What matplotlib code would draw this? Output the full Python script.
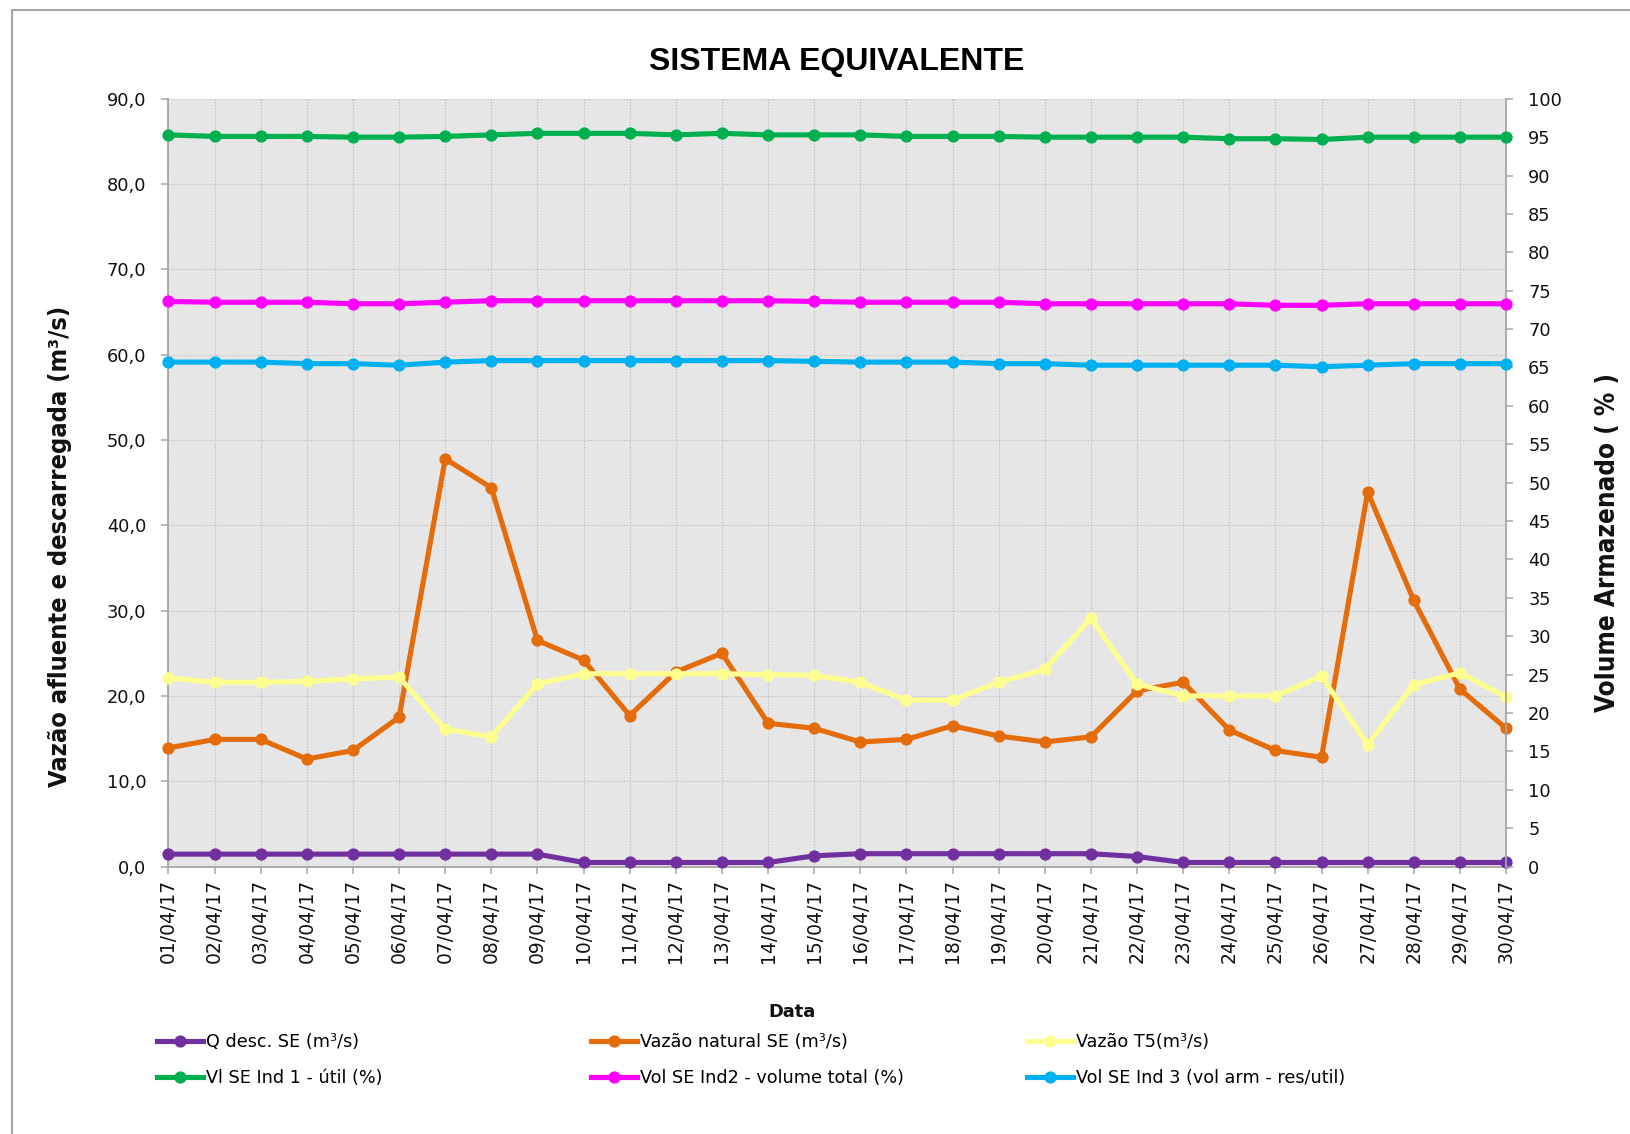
import matplotlib
matplotlib.use("Agg")
import matplotlib.pyplot as plt
from matplotlib.font_manager import FontProperties, findfont
from matplotlib.patches import Rectangle
from matplotlib.ticker import FuncFormatter, MultipleLocator

# ---------------- data ----------------
dates = ["01/04/17", "02/04/17", "03/04/17", "04/04/17", "05/04/17", "06/04/17",
         "07/04/17", "08/04/17", "09/04/17", "10/04/17", "11/04/17", "12/04/17",
         "13/04/17", "14/04/17", "15/04/17", "16/04/17", "17/04/17", "18/04/17",
         "19/04/17", "20/04/17", "21/04/17", "22/04/17", "23/04/17", "24/04/17",
         "25/04/17", "26/04/17", "27/04/17", "28/04/17", "29/04/17", "30/04/17"]

q_desc = [1.45, 1.45, 1.45, 1.45, 1.45, 1.45, 1.45, 1.45, 1.45, 0.47,
          0.47, 0.47, 0.47, 0.47, 1.25, 1.5, 1.5, 1.5, 1.5, 1.5,
          1.5, 1.17, 0.47, 0.47, 0.47, 0.47, 0.47, 0.47, 0.47, 0.47]

vazao_natural = [13.9, 14.9, 14.9, 12.6, 13.6, 17.5, 47.8, 44.4, 26.5, 24.2,
                 17.7, 22.8, 25.0, 16.8, 16.2, 14.6, 14.9, 16.5, 15.3, 14.6,
                 15.2, 20.6, 21.6, 16.0, 13.6, 12.8, 43.9, 31.2, 20.8, 16.2]

vazao_t5 = [22.1, 21.6, 21.6, 21.7, 22.0, 22.2, 16.1, 15.2, 21.4, 22.6,
            22.6, 22.6, 22.6, 22.5, 22.4, 21.6, 19.5, 19.5, 21.6, 23.1,
            29.1, 21.4, 20.0, 20.0, 20.0, 22.3, 14.3, 21.3, 22.7, 19.9]

vol_ind1 = [95.3, 95.1, 95.1, 95.1, 95.0, 95.0, 95.1, 95.3, 95.5, 95.5,
            95.5, 95.3, 95.5, 95.3, 95.3, 95.3, 95.1, 95.1, 95.1, 95.0,
            95.0, 95.0, 95.0, 94.8, 94.8, 94.7, 95.0, 95.0, 95.0, 95.0]

vol_ind2 = [73.6, 73.5, 73.5, 73.5, 73.3, 73.3, 73.5, 73.7, 73.7, 73.7,
            73.7, 73.7, 73.7, 73.7, 73.6, 73.5, 73.5, 73.5, 73.5, 73.3,
            73.3, 73.3, 73.3, 73.3, 73.1, 73.1, 73.3, 73.3, 73.3, 73.3]

vol_ind3 = [65.7, 65.7, 65.7, 65.5, 65.5, 65.3, 65.7, 65.9, 65.9, 65.9,
            65.9, 65.9, 65.9, 65.9, 65.8, 65.7, 65.7, 65.7, 65.5, 65.5,
            65.3, 65.3, 65.3, 65.3, 65.3, 65.1, 65.3, 65.5, 65.5, 65.5]

labels = ["Q desc. SE (m³/s)", "Vazão natural SE (m³/s)", "Vazão T5(m³/s)",
          "Vl SE Ind 1 - útil (%)", "Vol SE Ind2 - volume total (%)",
          "Vol SE Ind 3 (vol arm - res/util)"]
colors = ["#7030A0", "#E46C0A", "#FFFF8F", "#00B050", "#FF00FF", "#00B0F0"]

title = "SISTEMA EQUIVALENTE"
ylabel_left = "Vazão afluente e descarregada (m³/s)"
ylabel_right = "Volume Armazenado ( % )"
xlabel = "Data"

# ---------------- fonts ----------------
def condensed_bold():
    for fam in ["DejaVu Sans Condensed", "DejaVu Sans"]:
        try:
            p = findfont(FontProperties(family=fam, weight="bold", stretch="condensed"),
                         fallback_to_default=False)
        except Exception:
            continue
        if "ondensed" in p:
            return FontProperties(fname=p)
    return None

cb = condensed_bold()
if cb is not None:
    lab_font = cb
    lab_size_l = 18.2
    lab_size_r = 18.6
else:
    lab_font = FontProperties(family="DejaVu Sans", weight="bold")
    lab_size_l = 16.6
    lab_size_r = 17.0

plt.rcParams["font.family"] = ["DejaVu Sans"]

W, H = 1631, 1134
fig = plt.figure(figsize=(W / 100, H / 100), dpi=100)
fig.patch.set_facecolor("white")

# outer chart frame (only left/top visible)
fig.add_artist(Rectangle((12 / W, -0.1), 2.0, 1.1 - 10 / H, transform=fig.transFigure,
                         fill=False, edgecolor="#A6A6A6", linewidth=1.5))

left, right, top, bottom = 168.5, 1506, 98.8, 866.5
ax = fig.add_axes([left / W, 1 - bottom / H, (right - left) / W, (bottom - top) / H])
ax.set_facecolor("#E6E6E6")
ax2 = ax.twinx()

x = list(range(len(dates)))
lw, ms = 3.7, 7.8
series_left = [q_desc, vazao_natural, vazao_t5]
series_right = [vol_ind1, vol_ind2, vol_ind3]
handles = []
for s, c, lab in zip(series_left, colors[:3], labels[:3]):
    h, = ax.plot(x, s, color=c, lw=lw, marker="o", ms=ms, clip_on=False, label=lab, zorder=3)
    handles.append(h)
for s, c, lab in zip(series_right, colors[3:], labels[3:]):
    h, = ax2.plot(x, s, color=c, lw=lw, marker="o", ms=ms, clip_on=False, label=lab, zorder=3)
    handles.append(h)

ax.set_xlim(0, len(dates) - 1)
ax.set_ylim(0, 90)
ax2.set_ylim(0, 100)
ax.set_xticks(x)
ax.set_xticklabels(dates, rotation=90, fontsize=13.5, color="#111111")
ax.yaxis.set_major_locator(MultipleLocator(10))
ax.yaxis.set_major_formatter(FuncFormatter(lambda v, p: f"{v:.1f}".replace(".", ",")))
ax2.yaxis.set_major_locator(MultipleLocator(5))
ax2.yaxis.set_major_formatter(FuncFormatter(lambda v, p: f"{v:.0f}"))

grid_kw = dict(color="#BABABA", linestyle=(0, (1, 1.5)), linewidth=0.8)
ax.grid(True, axis="both", **grid_kw)
ax.set_axisbelow(True)

spc = "#A6A6A6"
for a in (ax, ax2):
    for sp in a.spines.values():
        sp.set_color(spc)
        sp.set_linewidth(1.3)
    a.spines["top"].set_visible(False)
ax.spines["right"].set_visible(False)
ax2.spines["left"].set_visible(False)
ax2.spines["bottom"].set_visible(False)

ax.tick_params(axis="x", direction="out", length=5, width=1.1, color=spc, pad=4)
ax.tick_params(axis="y", direction="out", length=5, width=1.1, color=spc, pad=11,
               labelsize=12.8, labelcolor="#111111")
ax2.tick_params(axis="y", direction="out", length=5, width=1.1, color=spc, pad=11,
                labelsize=12.8, labelcolor="#111111")

# texts
fig.text(837 / W, 1 - 70 / H, title, ha="center", va="baseline",
         fontsize=23, fontweight="bold", family=["Liberation Sans", "DejaVu Sans"])
fig.text(60 / W, 1 - 546 / H, ylabel_left, rotation=90, ha="center", va="center",
         fontproperties=lab_font, fontsize=lab_size_l, color="#111111")
fig.text(1608 / W, 1 - 542 / H, ylabel_right, rotation=90, ha="center", va="center",
         fontproperties=lab_font, fontsize=lab_size_r, color="#111111")
fig.text(792 / W, 1 - 1017 / H, xlabel, ha="center", va="baseline",
         fontsize=12.9, fontweight="bold", color="#111111")

# legend: three two-row columns
col_x = [157, 591, 1027]
for i, cx in enumerate(col_x):
    hs = [handles[i], handles[i + 3]]
    fig.legend(hs, [h.get_label() for h in hs], loc="center left",
               bbox_to_anchor=(cx / W, 1 - 1060 / H), frameon=False,
               fontsize=12.7, handlelength=2.6, handletextpad=0.15,
               labelspacing=1.0, borderpad=0, borderaxespad=0, numpoints=1)

fig.savefig("out.png", dpi=100)
